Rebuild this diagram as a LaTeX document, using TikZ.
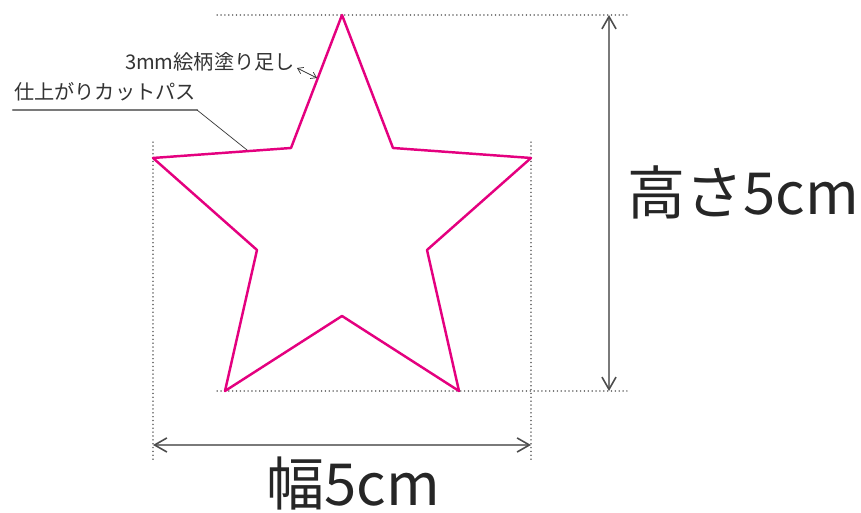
\documentclass[tikz,border=0pt]{standalone}
\usepackage{fontspec}
\setmainfont{Noto Sans CJK JP}
\usepackage{tikz}
\usepackage{tkz-euclide}
\usetikzlibrary{arrows.meta}
\definecolor{starpink}{HTML}{E4007F}
\definecolor{dimgray}{HTML}{7A7A7A}
\tikzset{
  guide/.style={dotted, dimgray, line width=0.7pt},
  dimline/.style={dimgray, line width=0.9pt, {Straight Barb[length=7pt,width=8pt,black!70]}-{Straight Barb[length=7pt,width=8pt,black!70]}},
  bigtext/.style={inner sep=0pt, font=\fontsize{33}{38}\selectfont, text=black!85},
  smalltext/.style={inner sep=0pt, font=\fontsize{11.5}{14}\selectfont, text=black!80}
}

\begin{document}
\begin{tikzpicture}
                        \useasboundingbox (0,0) rectangle (17.22,10.26);

                        % star
                        \tkzDefPoint(6.84,9.96){T}
                        \tkzDefPoint(7.86,7.30){TR}
                        \tkzDefPoint(10.62,7.10){R}
                        \tkzDefPoint(8.54,5.26){LR}
                        \tkzDefPoint(9.18,2.44){BR}
                        \tkzDefPoint(6.84,3.94){BI}
                        \tkzDefPoint(4.50,2.44){BL}
                        \tkzDefPoint(5.14,5.26){LL}
                        \tkzDefPoint(3.06,7.10){L}
                        \tkzDefPoint(5.82,7.30){TL}

                        % guides
                        \tkzDefPoint(4.34,9.96){gta}
                        \tkzDefPoint(12.54,9.96){gtb}
                        \tkzDefPoint(4.34,2.44){gba}
                        \tkzDefPoint(12.54,2.44){gbb}
                        \tkzDefPoint(3.06,7.42){gla}
                        \tkzDefPoint(3.06,1.02){glb}
                        \tkzDefPoint(10.62,7.42){gra}
                        \tkzDefPoint(10.62,1.02){grb}

                        % dimension ends
                        \tkzDefPoint(12.18,9.96){H1}
                        \tkzDefPoint(12.18,2.44){H2}
                        \tkzDefPoint(3.06,1.36){W1}
                        \tkzDefPoint(10.62,1.36){W2}

                        % leaders
                        \tkzDefPoint(0.26,8.06){ua}
                        \tkzDefPoint(3.94,8.06){ub}
                        \tkzDefPoint(4.94,7.26){uc}
                        \tkzDefPoint(5.94,8.90){ba}
                        \tkzDefPoint(6.34,8.70){bb}

                        \tkzDrawSegment[guide](gta,gtb)
                        \tkzDrawSegment[guide](gba,gbb)
                        \tkzDrawSegment[guide](gla,glb)
                        \tkzDrawSegment[guide](gra,grb)

                        \tkzDrawPolygon[starpink, line width=1.4pt](T,TR,R,LR,BR,BI,BL,LL,L,TL)

                        \tkzDrawSegment[dimline](H1,H2)
                        \tkzDrawSegment[dimline](W1,W2)

                        \node[bigtext] (height) at (14.86,6.42) {高さ5cm};
                        \node[bigtext] (width) at (7.06,0.58) {幅5cm};
                        \node[smalltext] (bleed) at (4.20,9.02) {3mm絵柄塗り足し};
                        \node[smalltext] (cut) at (2.10,8.42) {仕上がりカットパス};

                        \tkzDrawSegment[dimgray, line width=1.2pt](ua,ub)
                        \tkzDrawSegment[black!80, line width=0.4pt](ub,uc)
                        \tkzDrawSegment[black!80, line width=0.4pt, {Straight Barb[length=3pt,width=4pt]}-{Straight Barb[length=3pt,width=4pt]}](ba,bb)
                    \end{tikzpicture}
\end{document}
